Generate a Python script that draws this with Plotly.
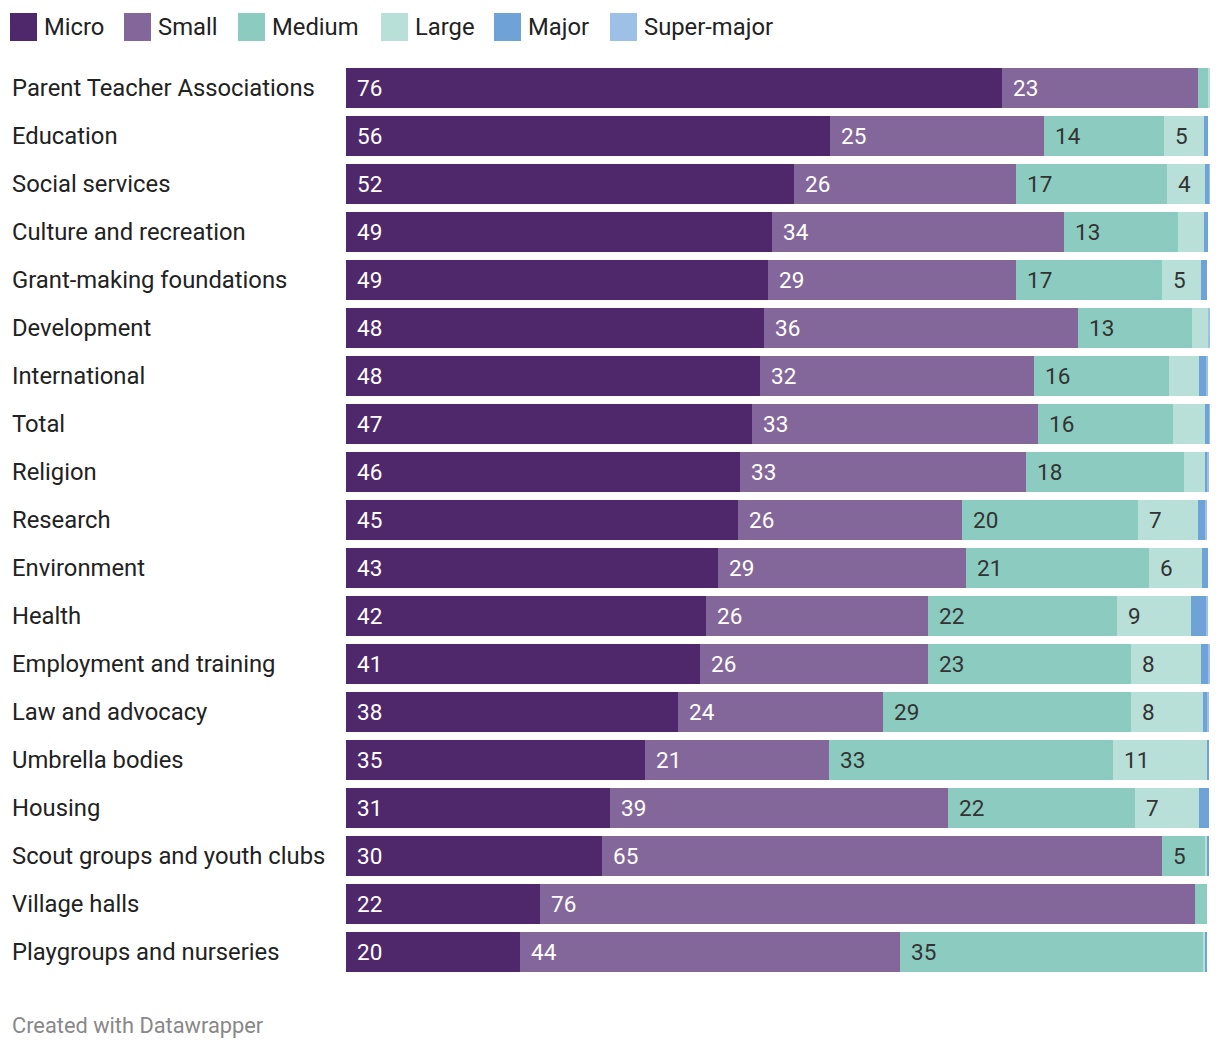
import plotly.graph_objects as go

categories = ["Parent Teacher Associations", "Education", "Social services", "Culture and recreation",
              "Grant-making foundations", "Development", "International", "Total", "Religion", "Research",
              "Environment", "Health", "Employment and training", "Law and advocacy", "Umbrella bodies",
              "Housing", "Scout groups and youth clubs", "Village halls", "Playgroups and nurseries"]

series_names = ["Micro", "Small", "Medium", "Large", "Major", "Super-major"]

micro = [75.9, 56.0, 51.9, 49.3, 48.8, 48.4, 47.9, 47.0, 45.6, 45.4, 43.1, 41.7, 41.0, 38.4, 34.6, 30.6, 29.6, 22.4, 20.1]
small = [22.7, 24.8, 25.7, 33.8, 28.7, 36.3, 31.7, 33.1, 33.1, 25.9, 28.7, 25.7, 26.4, 23.8, 21.3, 39.1, 64.8, 75.9, 44.0]
medium = [1.2, 13.9, 17.4, 13.2, 16.9, 13.2, 15.6, 15.6, 18.3, 20.4, 21.1, 21.8, 23.4, 28.6, 32.9, 21.6, 5.1, 1.4, 35.2]
large = [0.2, 4.6, 4.4, 3.0, 4.6, 1.9, 3.5, 3.7, 2.5, 6.9, 6.2, 8.6, 8.1, 8.4, 10.9, 7.4, 0.2, 0.0, 0.2]
major = [0.0, 0.5, 0.5, 0.5, 0.7, 0.0, 0.9, 0.5, 0.2, 0.9, 0.7, 1.8, 0.9, 0.5, 0.2, 1.2, 0.2, 0.0, 0.2]
super_major = [0.0, 0.0, 0.2, 0.0, 0.0, 0.2, 0.2, 0.2, 0.2, 0.2, 0.0, 0.2, 0.2, 0.2, 0.0, 0.0, 0.0, 0.0, 0.0]

series_values = [micro, small, medium, large, major, super_major]
colors = ["#4f286b", "#84679a", "#8ccbbf", "#b8e0d8", "#6fa3d8", "#9dc1e6"]
label_colors = ["#ffffff", "#ffffff", "#333333", "#333333", "#333333", "#333333"]

W, H = 1220, 1050
ML, MR, MT, MB = 346, 10, 64, 74
PW = W - ML - MR
PH = H - MT - MB
FONT = "Roboto"


def px_x(px):
    return (px - ML) / PW


def px_y(py):
    return (H - MB - py) / PH


fig = go.Figure()
for name, vals, col in zip(series_names, series_values, colors):
    fig.add_trace(go.Bar(
        y=categories, x=vals, name=name, orientation="h",
        marker=dict(color=col, line=dict(width=0)),
        showlegend=False, hoverinfo="x+name",
    ))

annotations = []
# value labels
for si, vals in enumerate(series_values):
    for ci, cat in enumerate(categories):
        v = vals[ci]
        start = sum(series_values[k][ci] for k in range(si))
        if v >= 4:
            annotations.append(dict(
                x=start, y=cat, xref="x", yref="y", text=f"{v:.0f}",
                showarrow=False, xanchor="left", yanchor="middle", xshift=9,
                font=dict(family=FONT, size=22.5, color=label_colors[si]),
            ))
# category labels
for cat in categories:
    annotations.append(dict(
        x=px_x(10), y=cat, xref="paper", yref="y", text=cat, showarrow=False,
        xanchor="left", yanchor="middle",
        font=dict(family=FONT, size=23.8, color="#222222"),
    ))

# legend
leg_x = [10, 124, 238, 381, 494, 610]
shapes = []
for name, col, lx in zip(series_names, colors, leg_x):
    shapes.append(dict(type="rect", xref="paper", yref="paper",
                       x0=px_x(lx), x1=px_x(lx + 27), y0=px_y(41), y1=px_y(13),
                       fillcolor=col, line=dict(width=0)))
    annotations.append(dict(
        x=px_x(lx + 32), y=px_y(27), xref="paper", yref="paper", text=name,
        showarrow=False, xanchor="left", yanchor="middle",
        font=dict(family=FONT, size=23.8, color="#222222"),
    ))

annotations.append(dict(
    x=px_x(10), y=px_y(1025), xref="paper", yref="paper", text="Created with Datawrapper",
    showarrow=False, xanchor="left", yanchor="middle",
    font=dict(family=FONT, size=21.8, color="#888888"),
))

fig.update_layout(
    barmode="stack", bargap=8 / 48,
    width=W, height=H,
    margin=dict(l=ML, r=MR, t=MT, b=MB, pad=0),
    plot_bgcolor="white", paper_bgcolor="white",
    xaxis=dict(range=[0, 100], visible=False, fixedrange=True),
    yaxis=dict(autorange="reversed", showticklabels=False, showgrid=False, zeroline=False,
               ticks="", fixedrange=True),
    annotations=annotations, shapes=shapes,
    font=dict(family=FONT),
)

fig.write_html("out.html")
